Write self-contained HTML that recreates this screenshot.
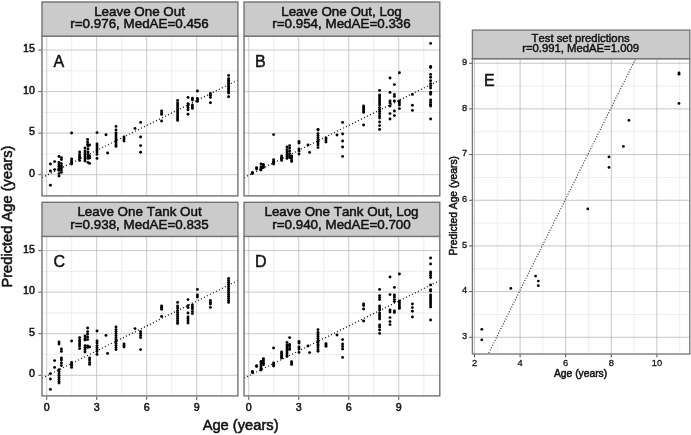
<!DOCTYPE html>
<html lang="en"><head><meta charset="utf-8"><title>Predicted Age vs Age</title>
<style>html,body{margin:0;padding:0;background:#fff}svg{display:block;will-change:transform;opacity:.9999}text{font-family:"Liberation Sans",Arial,Helvetica,sans-serif;fill:#111;stroke:#111;stroke-width:.4px;stroke-linejoin:round;font-kerning:none}.st{font-size:13.4px;text-anchor:middle;stroke-width:.5px}.tk{font-size:10.7px;stroke-width:.5px}.pl{font-size:16px;stroke-width:.5px}.ax{font-size:14.7px;text-anchor:middle;stroke-width:.55px}.est{font-size:11.3px;text-anchor:middle;stroke-width:.45px}.etk{font-size:9.3px;stroke-width:.3px}.eax{font-size:10.3px;text-anchor:middle;stroke-width:.5px}</style></head><body>
<svg width="691" height="435" viewBox="0 0 691 435">
<rect width="691" height="435" fill="#fff"/>
<g>
<clipPath id="cp0"><rect x="42.00" y="36.10" width="195.90" height="159.80"/></clipPath>
<rect x="42.00" y="36.10" width="195.90" height="159.80" fill="#fff"/>
<path d="M71.70 36.10V195.90M121.70 36.10V195.90M171.70 36.10V195.90M221.70 36.10V195.90M42.00 195.47H237.90M42.00 153.92H237.90M42.00 112.37H237.90M42.00 70.82H237.90" stroke="#dcdcdc" stroke-width="0.5" fill="none"/>
<path d="M46.70 36.10V195.90M96.70 36.10V195.90M146.70 36.10V195.90M196.70 36.10V195.90M42.00 174.70H237.90M42.00 133.15H237.90M42.00 91.60H237.90M42.00 50.05H237.90" stroke="#bcbcbc" stroke-width="0.8" fill="none"/>
<line x1="42.00" y1="177.64" x2="237.90" y2="79.97" stroke="#222" stroke-width="1.25" stroke-dasharray="1.15 2.2" clip-path="url(#cp0)"/>
<g fill="#000"><circle cx="50.4" cy="164.0" r="1.45"/><circle cx="50.4" cy="171.0" r="1.45"/><circle cx="50.4" cy="185.2" r="1.45"/><circle cx="54.6" cy="161.6" r="1.45"/><circle cx="54.6" cy="169.6" r="1.45"/><circle cx="59.0" cy="156.4" r="1.45"/><circle cx="59.0" cy="162.4" r="1.45"/><circle cx="59.0" cy="164.4" r="1.45"/><circle cx="59.0" cy="166.4" r="1.45"/><circle cx="59.0" cy="168.4" r="1.45"/><circle cx="59.0" cy="170.4" r="1.45"/><circle cx="59.0" cy="173.6" r="1.45"/><circle cx="59.0" cy="176.0" r="1.45"/><circle cx="61.4" cy="157.6" r="1.45"/><circle cx="61.4" cy="159.6" r="1.45"/><circle cx="61.4" cy="163.6" r="1.45"/><circle cx="61.4" cy="166.0" r="1.45"/><circle cx="61.4" cy="168.0" r="1.45"/><circle cx="61.4" cy="170.0" r="1.45"/><circle cx="61.4" cy="172.4" r="1.45"/><circle cx="71.6" cy="133.0" r="1.45"/><circle cx="71.6" cy="159.0" r="1.45"/><circle cx="71.6" cy="161.0" r="1.45"/><circle cx="71.6" cy="162.4" r="1.45"/><circle cx="71.6" cy="164.0" r="1.45"/><circle cx="79.6" cy="152.0" r="1.45"/><circle cx="79.6" cy="154.4" r="1.45"/><circle cx="79.6" cy="156.4" r="1.45"/><circle cx="79.6" cy="158.0" r="1.45"/><circle cx="79.6" cy="160.4" r="1.45"/><circle cx="87.6" cy="139.4" r="1.45"/><circle cx="87.6" cy="142.0" r="1.45"/><circle cx="87.6" cy="144.4" r="1.45"/><circle cx="85.0" cy="148.0" r="1.45"/><circle cx="85.0" cy="151.0" r="1.45"/><circle cx="85.0" cy="153.0" r="1.45"/><circle cx="85.0" cy="155.0" r="1.45"/><circle cx="85.0" cy="157.0" r="1.45"/><circle cx="85.0" cy="159.0" r="1.45"/><circle cx="85.0" cy="161.0" r="1.45"/><circle cx="88.0" cy="146.0" r="1.45"/><circle cx="88.0" cy="149.0" r="1.45"/><circle cx="88.0" cy="152.0" r="1.45"/><circle cx="88.0" cy="154.4" r="1.45"/><circle cx="88.0" cy="156.4" r="1.45"/><circle cx="88.0" cy="158.4" r="1.45"/><circle cx="88.0" cy="162.4" r="1.45"/><circle cx="89.6" cy="145.0" r="1.45"/><circle cx="89.6" cy="156.0" r="1.45"/><circle cx="89.6" cy="158.0" r="1.45"/><circle cx="89.6" cy="163.4" r="1.45"/><circle cx="97.0" cy="132.6" r="1.45"/><circle cx="97.0" cy="144.0" r="1.45"/><circle cx="97.0" cy="146.0" r="1.45"/><circle cx="97.0" cy="148.0" r="1.45"/><circle cx="97.0" cy="150.0" r="1.45"/><circle cx="97.0" cy="152.0" r="1.45"/><circle cx="97.0" cy="154.4" r="1.45"/><circle cx="97.0" cy="158.4" r="1.45"/><circle cx="106.0" cy="134.8" r="1.45"/><circle cx="107.6" cy="153.0" r="1.45"/><circle cx="116.0" cy="126.4" r="1.45"/><circle cx="116.0" cy="130.0" r="1.45"/><circle cx="116.0" cy="133.0" r="1.45"/><circle cx="116.0" cy="135.0" r="1.45"/><circle cx="116.0" cy="137.0" r="1.45"/><circle cx="116.0" cy="139.0" r="1.45"/><circle cx="116.0" cy="141.0" r="1.45"/><circle cx="116.0" cy="143.0" r="1.45"/><circle cx="116.0" cy="145.0" r="1.45"/><circle cx="116.0" cy="146.4" r="1.45"/><circle cx="124.0" cy="137.0" r="1.45"/><circle cx="124.0" cy="139.0" r="1.45"/><circle cx="124.0" cy="141.0" r="1.45"/><circle cx="135.0" cy="128.4" r="1.45"/><circle cx="140.6" cy="122.4" r="1.45"/><circle cx="140.6" cy="137.0" r="1.45"/><circle cx="140.6" cy="145.6" r="1.45"/><circle cx="140.6" cy="152.2" r="1.45"/><circle cx="161.6" cy="111.0" r="1.45"/><circle cx="161.6" cy="113.0" r="1.45"/><circle cx="161.6" cy="114.4" r="1.45"/><circle cx="161.6" cy="121.0" r="1.45"/><circle cx="177.6" cy="100.4" r="1.45"/><circle cx="177.6" cy="103.0" r="1.45"/><circle cx="177.6" cy="105.0" r="1.45"/><circle cx="177.6" cy="107.0" r="1.45"/><circle cx="177.6" cy="109.0" r="1.45"/><circle cx="177.6" cy="111.0" r="1.45"/><circle cx="177.6" cy="113.0" r="1.45"/><circle cx="177.6" cy="115.0" r="1.45"/><circle cx="177.6" cy="117.0" r="1.45"/><circle cx="177.6" cy="119.0" r="1.45"/><circle cx="177.6" cy="120.4" r="1.45"/><circle cx="188.0" cy="97.4" r="1.45"/><circle cx="188.0" cy="103.6" r="1.45"/><circle cx="188.0" cy="105.6" r="1.45"/><circle cx="188.0" cy="107.8" r="1.45"/><circle cx="188.0" cy="109.8" r="1.45"/><circle cx="188.0" cy="114.2" r="1.45"/><circle cx="192.4" cy="98.2" r="1.45"/><circle cx="192.4" cy="100.0" r="1.45"/><circle cx="192.4" cy="105.0" r="1.45"/><circle cx="192.4" cy="107.0" r="1.45"/><circle cx="192.4" cy="108.4" r="1.45"/><circle cx="197.4" cy="91.0" r="1.45"/><circle cx="197.4" cy="98.4" r="1.45"/><circle cx="197.4" cy="100.0" r="1.45"/><circle cx="197.4" cy="101.4" r="1.45"/><circle cx="210.4" cy="93.4" r="1.45"/><circle cx="210.4" cy="95.2" r="1.45"/><circle cx="210.4" cy="97.4" r="1.45"/><circle cx="210.4" cy="102.8" r="1.45"/><circle cx="228.6" cy="75.4" r="1.45"/><circle cx="228.6" cy="78.6" r="1.45"/><circle cx="228.6" cy="80.2" r="1.45"/><circle cx="228.6" cy="81.8" r="1.45"/><circle cx="228.6" cy="83.4" r="1.45"/><circle cx="228.6" cy="85.0" r="1.45"/><circle cx="228.6" cy="86.6" r="1.45"/><circle cx="228.6" cy="88.2" r="1.45"/><circle cx="228.6" cy="89.8" r="1.45"/><circle cx="228.6" cy="91.4" r="1.45"/><circle cx="228.6" cy="93.0" r="1.45"/><circle cx="228.6" cy="96.8" r="1.45"/></g>
<rect x="42.00" y="36.10" width="195.90" height="159.80" fill="none" stroke="#737373" stroke-width="1.4"/>
<rect x="42.00" y="2.00" width="195.90" height="34.10" fill="#cbcbcb" stroke="#737373" stroke-width="1.4"/>
<text class="st" x="139.55" y="15.90">Leave One Out</text>
<text class="st" x="139.55" y="28.20">r=0.976, MedAE=0.456</text>
<text class="pl" x="53.50" y="66.50">A</text>
<line x1="38.30" y1="174.70" x2="41.30" y2="174.70" stroke="#555" stroke-width="1"/>
<text class="tk" text-anchor="end" x="35.00" y="176.80">0</text>
<line x1="38.30" y1="133.15" x2="41.30" y2="133.15" stroke="#555" stroke-width="1"/>
<text class="tk" text-anchor="end" x="35.00" y="135.25">5</text>
<line x1="38.30" y1="91.60" x2="41.30" y2="91.60" stroke="#555" stroke-width="1"/>
<text class="tk" text-anchor="end" x="35.00" y="93.70">10</text>
<line x1="38.30" y1="50.05" x2="41.30" y2="50.05" stroke="#555" stroke-width="1"/>
<text class="tk" text-anchor="end" x="35.00" y="52.15">15</text>
</g>
<g>
<clipPath id="cp1"><rect x="244.05" y="36.10" width="195.75" height="159.80"/></clipPath>
<rect x="244.05" y="36.10" width="195.75" height="159.80" fill="#fff"/>
<path d="M273.75 36.10V195.90M323.75 36.10V195.90M373.75 36.10V195.90M423.75 36.10V195.90M244.05 195.47H439.80M244.05 153.92H439.80M244.05 112.37H439.80M244.05 70.82H439.80" stroke="#dcdcdc" stroke-width="0.5" fill="none"/>
<path d="M248.75 36.10V195.90M298.75 36.10V195.90M348.75 36.10V195.90M398.75 36.10V195.90M244.05 174.70H439.80M244.05 133.15H439.80M244.05 91.60H439.80M244.05 50.05H439.80" stroke="#bcbcbc" stroke-width="0.8" fill="none"/>
<line x1="244.05" y1="177.64" x2="439.80" y2="80.04" stroke="#222" stroke-width="1.25" stroke-dasharray="1.15 2.2" clip-path="url(#cp1)"/>
<g fill="#000"><circle cx="252.4" cy="172.4" r="1.45"/><circle cx="252.4" cy="173.6" r="1.45"/><circle cx="256.6" cy="167.6" r="1.45"/><circle cx="256.6" cy="169.0" r="1.45"/><circle cx="261.0" cy="164.0" r="1.45"/><circle cx="261.0" cy="167.0" r="1.45"/><circle cx="261.0" cy="168.4" r="1.45"/><circle cx="261.0" cy="170.0" r="1.45"/><circle cx="263.4" cy="164.4" r="1.45"/><circle cx="263.4" cy="166.0" r="1.45"/><circle cx="263.4" cy="167.6" r="1.45"/><circle cx="273.6" cy="134.6" r="1.45"/><circle cx="273.6" cy="159.6" r="1.45"/><circle cx="273.6" cy="161.2" r="1.45"/><circle cx="273.6" cy="162.4" r="1.45"/><circle cx="273.6" cy="164.0" r="1.45"/><circle cx="281.6" cy="156.0" r="1.45"/><circle cx="281.6" cy="157.4" r="1.45"/><circle cx="281.6" cy="158.8" r="1.45"/><circle cx="281.6" cy="160.4" r="1.45"/><circle cx="287.0" cy="147.0" r="1.45"/><circle cx="287.0" cy="149.6" r="1.45"/><circle cx="287.0" cy="152.0" r="1.45"/><circle cx="287.0" cy="154.4" r="1.45"/><circle cx="287.0" cy="156.4" r="1.45"/><circle cx="287.0" cy="158.4" r="1.45"/><circle cx="289.6" cy="145.6" r="1.45"/><circle cx="289.6" cy="148.0" r="1.45"/><circle cx="289.6" cy="151.0" r="1.45"/><circle cx="289.6" cy="153.6" r="1.45"/><circle cx="289.6" cy="155.6" r="1.45"/><circle cx="289.6" cy="157.6" r="1.45"/><circle cx="291.6" cy="156.0" r="1.45"/><circle cx="291.6" cy="158.0" r="1.45"/><circle cx="291.6" cy="160.0" r="1.45"/><circle cx="291.6" cy="161.6" r="1.45"/><circle cx="299.0" cy="141.4" r="1.45"/><circle cx="299.0" cy="143.0" r="1.45"/><circle cx="299.0" cy="149.0" r="1.45"/><circle cx="299.0" cy="151.0" r="1.45"/><circle cx="299.0" cy="154.0" r="1.45"/><circle cx="308.0" cy="145.0" r="1.45"/><circle cx="309.6" cy="152.4" r="1.45"/><circle cx="318.0" cy="129.4" r="1.45"/><circle cx="318.0" cy="130.0" r="1.45"/><circle cx="318.0" cy="133.6" r="1.45"/><circle cx="318.0" cy="135.6" r="1.45"/><circle cx="318.0" cy="137.6" r="1.45"/><circle cx="318.0" cy="139.6" r="1.45"/><circle cx="318.0" cy="141.6" r="1.45"/><circle cx="318.0" cy="143.0" r="1.45"/><circle cx="318.0" cy="145.0" r="1.45"/><circle cx="318.0" cy="147.6" r="1.45"/><circle cx="326.0" cy="138.0" r="1.45"/><circle cx="326.0" cy="140.0" r="1.45"/><circle cx="326.0" cy="142.0" r="1.45"/><circle cx="337.0" cy="135.0" r="1.45"/><circle cx="342.6" cy="122.4" r="1.45"/><circle cx="342.6" cy="134.0" r="1.45"/><circle cx="342.6" cy="141.0" r="1.45"/><circle cx="342.6" cy="147.0" r="1.45"/><circle cx="342.6" cy="156.4" r="1.45"/><circle cx="363.6" cy="106.0" r="1.45"/><circle cx="363.6" cy="107.6" r="1.45"/><circle cx="363.6" cy="109.2" r="1.45"/><circle cx="363.6" cy="111.0" r="1.45"/><circle cx="363.6" cy="112.4" r="1.45"/><circle cx="363.6" cy="125.0" r="1.45"/><circle cx="379.6" cy="90.4" r="1.45"/><circle cx="379.6" cy="95.0" r="1.45"/><circle cx="379.6" cy="97.0" r="1.45"/><circle cx="379.6" cy="99.0" r="1.45"/><circle cx="379.6" cy="101.0" r="1.45"/><circle cx="379.6" cy="103.0" r="1.45"/><circle cx="379.6" cy="105.0" r="1.45"/><circle cx="379.6" cy="107.6" r="1.45"/><circle cx="379.6" cy="109.6" r="1.45"/><circle cx="379.6" cy="111.6" r="1.45"/><circle cx="379.6" cy="113.6" r="1.45"/><circle cx="379.6" cy="116.0" r="1.45"/><circle cx="379.6" cy="118.0" r="1.45"/><circle cx="379.6" cy="122.0" r="1.45"/><circle cx="379.6" cy="125.6" r="1.45"/><circle cx="379.6" cy="129.4" r="1.45"/><circle cx="390.0" cy="78.0" r="1.45"/><circle cx="390.0" cy="92.4" r="1.45"/><circle cx="390.0" cy="101.0" r="1.45"/><circle cx="390.0" cy="103.0" r="1.45"/><circle cx="390.0" cy="106.0" r="1.45"/><circle cx="390.0" cy="113.6" r="1.45"/><circle cx="390.0" cy="119.0" r="1.45"/><circle cx="394.4" cy="84.6" r="1.45"/><circle cx="394.4" cy="94.4" r="1.45"/><circle cx="394.4" cy="96.4" r="1.45"/><circle cx="394.4" cy="101.0" r="1.45"/><circle cx="394.4" cy="111.0" r="1.45"/><circle cx="394.4" cy="115.6" r="1.45"/><circle cx="399.4" cy="72.8" r="1.45"/><circle cx="399.4" cy="101.0" r="1.45"/><circle cx="399.4" cy="103.0" r="1.45"/><circle cx="399.4" cy="105.0" r="1.45"/><circle cx="399.4" cy="108.6" r="1.45"/><circle cx="412.4" cy="94.4" r="1.45"/><circle cx="412.4" cy="105.2" r="1.45"/><circle cx="412.4" cy="110.4" r="1.45"/><circle cx="430.6" cy="43.4" r="1.45"/><circle cx="430.6" cy="66.4" r="1.45"/><circle cx="430.6" cy="67.6" r="1.45"/><circle cx="430.6" cy="74.4" r="1.45"/><circle cx="430.6" cy="77.2" r="1.45"/><circle cx="430.6" cy="80.8" r="1.45"/><circle cx="430.6" cy="83.6" r="1.45"/><circle cx="430.6" cy="85.8" r="1.45"/><circle cx="430.6" cy="88.0" r="1.45"/><circle cx="430.6" cy="92.2" r="1.45"/><circle cx="430.6" cy="94.2" r="1.45"/><circle cx="430.6" cy="100.0" r="1.45"/><circle cx="430.6" cy="102.2" r="1.45"/><circle cx="430.6" cy="104.4" r="1.45"/><circle cx="430.6" cy="106.0" r="1.45"/><circle cx="430.6" cy="119.0" r="1.45"/></g>
<rect x="244.05" y="36.10" width="195.75" height="159.80" fill="none" stroke="#737373" stroke-width="1.4"/>
<rect x="244.05" y="2.00" width="195.75" height="34.10" fill="#cbcbcb" stroke="#737373" stroke-width="1.4"/>
<text class="st" x="341.53" y="15.90">Leave One Out, Log</text>
<text class="st" x="341.53" y="28.20">r=0.954, MedAE=0.336</text>
<text class="pl" x="254.95" y="66.50">B</text>
</g>
<g>
<clipPath id="cp2"><rect x="42.00" y="236.40" width="195.90" height="159.50"/></clipPath>
<rect x="42.00" y="236.40" width="195.90" height="159.50" fill="#fff"/>
<path d="M71.70 236.40V395.90M121.70 236.40V395.90M171.70 236.40V395.90M221.70 236.40V395.90M42.00 354.48H237.90M42.00 312.93H237.90M42.00 271.38H237.90" stroke="#dcdcdc" stroke-width="0.5" fill="none"/>
<path d="M46.70 236.40V395.90M96.70 236.40V395.90M146.70 236.40V395.90M196.70 236.40V395.90M42.00 375.25H237.90M42.00 333.70H237.90M42.00 292.15H237.90M42.00 250.60H237.90" stroke="#bcbcbc" stroke-width="0.8" fill="none"/>
<line x1="42.00" y1="378.19" x2="237.90" y2="280.52" stroke="#222" stroke-width="1.25" stroke-dasharray="1.15 2.2" clip-path="url(#cp2)"/>
<g fill="#000"><circle cx="50.4" cy="373.6" r="1.45"/><circle cx="50.4" cy="379.0" r="1.45"/><circle cx="50.4" cy="389.4" r="1.45"/><circle cx="54.6" cy="360.6" r="1.45"/><circle cx="54.6" cy="367.4" r="1.45"/><circle cx="59.0" cy="342.0" r="1.45"/><circle cx="59.0" cy="344.0" r="1.45"/><circle cx="59.0" cy="369.6" r="1.45"/><circle cx="59.0" cy="371.6" r="1.45"/><circle cx="59.0" cy="373.6" r="1.45"/><circle cx="59.0" cy="375.6" r="1.45"/><circle cx="59.0" cy="377.6" r="1.45"/><circle cx="59.0" cy="379.6" r="1.45"/><circle cx="59.0" cy="381.6" r="1.45"/><circle cx="59.0" cy="383.0" r="1.45"/><circle cx="61.4" cy="349.0" r="1.45"/><circle cx="61.4" cy="351.4" r="1.45"/><circle cx="61.4" cy="358.0" r="1.45"/><circle cx="61.4" cy="360.0" r="1.45"/><circle cx="61.4" cy="363.0" r="1.45"/><circle cx="61.4" cy="365.6" r="1.45"/><circle cx="71.6" cy="341.0" r="1.45"/><circle cx="71.6" cy="362.4" r="1.45"/><circle cx="71.6" cy="364.0" r="1.45"/><circle cx="71.6" cy="365.6" r="1.45"/><circle cx="71.6" cy="367.4" r="1.45"/><circle cx="79.6" cy="337.6" r="1.45"/><circle cx="79.6" cy="340.0" r="1.45"/><circle cx="79.6" cy="342.0" r="1.45"/><circle cx="79.6" cy="344.0" r="1.45"/><circle cx="79.6" cy="346.0" r="1.45"/><circle cx="79.6" cy="348.6" r="1.45"/><circle cx="85.0" cy="336.0" r="1.45"/><circle cx="85.0" cy="338.4" r="1.45"/><circle cx="85.0" cy="340.0" r="1.45"/><circle cx="85.0" cy="345.6" r="1.45"/><circle cx="85.0" cy="347.6" r="1.45"/><circle cx="85.0" cy="349.6" r="1.45"/><circle cx="85.0" cy="352.0" r="1.45"/><circle cx="87.6" cy="328.0" r="1.45"/><circle cx="87.6" cy="331.6" r="1.45"/><circle cx="87.6" cy="334.0" r="1.45"/><circle cx="87.6" cy="337.0" r="1.45"/><circle cx="87.6" cy="339.6" r="1.45"/><circle cx="87.6" cy="346.0" r="1.45"/><circle cx="87.6" cy="347.4" r="1.45"/><circle cx="89.6" cy="347.0" r="1.45"/><circle cx="89.6" cy="358.0" r="1.45"/><circle cx="89.6" cy="360.0" r="1.45"/><circle cx="89.6" cy="362.4" r="1.45"/><circle cx="89.6" cy="364.4" r="1.45"/><circle cx="97.0" cy="331.0" r="1.45"/><circle cx="97.0" cy="341.0" r="1.45"/><circle cx="97.0" cy="343.0" r="1.45"/><circle cx="97.0" cy="345.6" r="1.45"/><circle cx="97.0" cy="347.6" r="1.45"/><circle cx="97.0" cy="349.6" r="1.45"/><circle cx="97.0" cy="351.6" r="1.45"/><circle cx="97.0" cy="354.4" r="1.45"/><circle cx="106.0" cy="335.4" r="1.45"/><circle cx="107.6" cy="353.4" r="1.45"/><circle cx="116.0" cy="327.0" r="1.45"/><circle cx="116.0" cy="329.6" r="1.45"/><circle cx="116.0" cy="331.6" r="1.45"/><circle cx="116.0" cy="333.6" r="1.45"/><circle cx="116.0" cy="335.6" r="1.45"/><circle cx="116.0" cy="337.6" r="1.45"/><circle cx="116.0" cy="339.6" r="1.45"/><circle cx="116.0" cy="341.6" r="1.45"/><circle cx="116.0" cy="343.6" r="1.45"/><circle cx="116.0" cy="345.6" r="1.45"/><circle cx="116.0" cy="347.6" r="1.45"/><circle cx="116.0" cy="349.6" r="1.45"/><circle cx="124.0" cy="344.0" r="1.45"/><circle cx="124.0" cy="345.6" r="1.45"/><circle cx="124.0" cy="347.0" r="1.45"/><circle cx="135.0" cy="328.6" r="1.45"/><circle cx="140.6" cy="331.6" r="1.45"/><circle cx="140.6" cy="333.6" r="1.45"/><circle cx="140.6" cy="335.6" r="1.45"/><circle cx="140.6" cy="337.6" r="1.45"/><circle cx="140.6" cy="349.6" r="1.45"/><circle cx="161.6" cy="306.0" r="1.45"/><circle cx="161.6" cy="307.6" r="1.45"/><circle cx="161.6" cy="309.2" r="1.45"/><circle cx="161.6" cy="316.4" r="1.45"/><circle cx="177.6" cy="302.4" r="1.45"/><circle cx="177.6" cy="306.0" r="1.45"/><circle cx="177.6" cy="308.0" r="1.45"/><circle cx="177.6" cy="310.4" r="1.45"/><circle cx="177.6" cy="312.4" r="1.45"/><circle cx="177.6" cy="314.4" r="1.45"/><circle cx="177.6" cy="316.4" r="1.45"/><circle cx="177.6" cy="318.4" r="1.45"/><circle cx="177.6" cy="320.4" r="1.45"/><circle cx="177.6" cy="322.4" r="1.45"/><circle cx="177.6" cy="323.6" r="1.45"/><circle cx="188.0" cy="299.6" r="1.45"/><circle cx="188.0" cy="305.6" r="1.45"/><circle cx="188.0" cy="307.6" r="1.45"/><circle cx="188.0" cy="313.0" r="1.45"/><circle cx="188.0" cy="317.0" r="1.45"/><circle cx="188.0" cy="319.0" r="1.45"/><circle cx="188.0" cy="321.0" r="1.45"/><circle cx="188.0" cy="323.0" r="1.45"/><circle cx="192.4" cy="305.0" r="1.45"/><circle cx="192.4" cy="307.0" r="1.45"/><circle cx="192.4" cy="309.0" r="1.45"/><circle cx="192.4" cy="311.6" r="1.45"/><circle cx="192.4" cy="313.6" r="1.45"/><circle cx="197.4" cy="289.4" r="1.45"/><circle cx="197.4" cy="295.0" r="1.45"/><circle cx="197.4" cy="297.0" r="1.45"/><circle cx="210.4" cy="300.4" r="1.45"/><circle cx="210.4" cy="302.4" r="1.45"/><circle cx="210.4" cy="304.0" r="1.45"/><circle cx="210.4" cy="307.4" r="1.45"/><circle cx="228.6" cy="278.4" r="1.45"/><circle cx="228.6" cy="280.4" r="1.45"/><circle cx="228.6" cy="282.4" r="1.45"/><circle cx="228.6" cy="284.4" r="1.45"/><circle cx="228.6" cy="286.4" r="1.45"/><circle cx="228.6" cy="288.4" r="1.45"/><circle cx="228.6" cy="290.4" r="1.45"/><circle cx="228.6" cy="292.4" r="1.45"/><circle cx="228.6" cy="294.4" r="1.45"/><circle cx="228.6" cy="296.4" r="1.45"/><circle cx="228.6" cy="298.4" r="1.45"/><circle cx="228.6" cy="300.4" r="1.45"/><circle cx="228.6" cy="302.4" r="1.45"/></g>
<rect x="42.00" y="236.40" width="195.90" height="159.50" fill="none" stroke="#737373" stroke-width="1.4"/>
<rect x="42.00" y="202.30" width="195.90" height="34.10" fill="#cbcbcb" stroke="#737373" stroke-width="1.4"/>
<text class="st" x="139.55" y="216.20">Leave One Tank Out</text>
<text class="st" x="139.55" y="228.50">r=0.938, MedAE=0.835</text>
<text class="pl" x="53.50" y="266.80">C</text>
<line x1="38.30" y1="375.25" x2="41.30" y2="375.25" stroke="#555" stroke-width="1"/>
<text class="tk" text-anchor="end" x="35.00" y="377.35">0</text>
<line x1="38.30" y1="333.70" x2="41.30" y2="333.70" stroke="#555" stroke-width="1"/>
<text class="tk" text-anchor="end" x="35.00" y="335.80">5</text>
<line x1="38.30" y1="292.15" x2="41.30" y2="292.15" stroke="#555" stroke-width="1"/>
<text class="tk" text-anchor="end" x="35.00" y="294.25">10</text>
<line x1="38.30" y1="250.60" x2="41.30" y2="250.60" stroke="#555" stroke-width="1"/>
<text class="tk" text-anchor="end" x="35.00" y="252.70">15</text>
<line x1="46.70" y1="396.60" x2="46.70" y2="399.90" stroke="#555" stroke-width="1"/>
<text class="tk" text-anchor="middle" x="46.70" y="410.70">0</text>
<line x1="96.70" y1="396.60" x2="96.70" y2="399.90" stroke="#555" stroke-width="1"/>
<text class="tk" text-anchor="middle" x="96.70" y="410.70">3</text>
<line x1="146.70" y1="396.60" x2="146.70" y2="399.90" stroke="#555" stroke-width="1"/>
<text class="tk" text-anchor="middle" x="146.70" y="410.70">6</text>
<line x1="196.70" y1="396.60" x2="196.70" y2="399.90" stroke="#555" stroke-width="1"/>
<text class="tk" text-anchor="middle" x="196.70" y="410.70">9</text>
</g>
<g>
<clipPath id="cp3"><rect x="244.05" y="236.40" width="195.75" height="159.50"/></clipPath>
<rect x="244.05" y="236.40" width="195.75" height="159.50" fill="#fff"/>
<path d="M273.75 236.40V395.90M323.75 236.40V395.90M373.75 236.40V395.90M423.75 236.40V395.90M244.05 354.48H439.80M244.05 312.93H439.80M244.05 271.38H439.80" stroke="#dcdcdc" stroke-width="0.5" fill="none"/>
<path d="M248.75 236.40V395.90M298.75 236.40V395.90M348.75 236.40V395.90M398.75 236.40V395.90M244.05 375.25H439.80M244.05 333.70H439.80M244.05 292.15H439.80M244.05 250.60H439.80" stroke="#bcbcbc" stroke-width="0.8" fill="none"/>
<line x1="244.05" y1="378.19" x2="439.80" y2="280.59" stroke="#222" stroke-width="1.25" stroke-dasharray="1.15 2.2" clip-path="url(#cp3)"/>
<g fill="#000"><circle cx="252.4" cy="371.4" r="1.45"/><circle cx="252.4" cy="372.6" r="1.45"/><circle cx="256.6" cy="365.6" r="1.45"/><circle cx="256.6" cy="366.6" r="1.45"/><circle cx="261.0" cy="361.4" r="1.45"/><circle cx="261.0" cy="363.0" r="1.45"/><circle cx="261.0" cy="365.0" r="1.45"/><circle cx="261.0" cy="367.0" r="1.45"/><circle cx="261.0" cy="368.6" r="1.45"/><circle cx="261.0" cy="370.0" r="1.45"/><circle cx="263.4" cy="358.6" r="1.45"/><circle cx="263.4" cy="360.0" r="1.45"/><circle cx="263.4" cy="361.6" r="1.45"/><circle cx="263.4" cy="363.2" r="1.45"/><circle cx="263.4" cy="364.8" r="1.45"/><circle cx="273.6" cy="348.0" r="1.45"/><circle cx="273.6" cy="363.0" r="1.45"/><circle cx="273.6" cy="364.6" r="1.45"/><circle cx="273.6" cy="366.0" r="1.45"/><circle cx="281.6" cy="352.0" r="1.45"/><circle cx="281.6" cy="353.6" r="1.45"/><circle cx="281.6" cy="355.2" r="1.45"/><circle cx="281.6" cy="356.8" r="1.45"/><circle cx="281.6" cy="358.0" r="1.45"/><circle cx="287.0" cy="342.4" r="1.45"/><circle cx="287.0" cy="345.0" r="1.45"/><circle cx="287.0" cy="347.0" r="1.45"/><circle cx="287.0" cy="349.0" r="1.45"/><circle cx="287.0" cy="351.0" r="1.45"/><circle cx="287.0" cy="353.0" r="1.45"/><circle cx="287.0" cy="355.0" r="1.45"/><circle cx="287.0" cy="356.4" r="1.45"/><circle cx="289.6" cy="337.6" r="1.45"/><circle cx="289.6" cy="344.4" r="1.45"/><circle cx="289.6" cy="346.0" r="1.45"/><circle cx="289.6" cy="348.4" r="1.45"/><circle cx="289.6" cy="349.6" r="1.45"/><circle cx="291.6" cy="361.6" r="1.45"/><circle cx="291.6" cy="363.0" r="1.45"/><circle cx="291.6" cy="364.4" r="1.45"/><circle cx="299.0" cy="341.4" r="1.45"/><circle cx="299.0" cy="343.0" r="1.45"/><circle cx="299.0" cy="347.0" r="1.45"/><circle cx="299.0" cy="349.0" r="1.45"/><circle cx="299.0" cy="352.4" r="1.45"/><circle cx="308.0" cy="346.0" r="1.45"/><circle cx="309.6" cy="352.6" r="1.45"/><circle cx="318.0" cy="329.6" r="1.45"/><circle cx="318.0" cy="332.4" r="1.45"/><circle cx="318.0" cy="334.4" r="1.45"/><circle cx="318.0" cy="336.4" r="1.45"/><circle cx="318.0" cy="338.4" r="1.45"/><circle cx="318.0" cy="340.4" r="1.45"/><circle cx="318.0" cy="342.4" r="1.45"/><circle cx="318.0" cy="344.4" r="1.45"/><circle cx="318.0" cy="346.0" r="1.45"/><circle cx="318.0" cy="347.6" r="1.45"/><circle cx="318.0" cy="349.6" r="1.45"/><circle cx="318.0" cy="351.2" r="1.45"/><circle cx="326.0" cy="343.6" r="1.45"/><circle cx="326.0" cy="345.0" r="1.45"/><circle cx="326.0" cy="346.2" r="1.45"/><circle cx="337.0" cy="335.0" r="1.45"/><circle cx="342.6" cy="339.6" r="1.45"/><circle cx="342.6" cy="344.0" r="1.45"/><circle cx="342.6" cy="346.4" r="1.45"/><circle cx="342.6" cy="349.0" r="1.45"/><circle cx="342.6" cy="357.4" r="1.45"/><circle cx="363.6" cy="304.0" r="1.45"/><circle cx="363.6" cy="305.6" r="1.45"/><circle cx="363.6" cy="309.0" r="1.45"/><circle cx="363.6" cy="321.0" r="1.45"/><circle cx="379.6" cy="289.4" r="1.45"/><circle cx="379.6" cy="295.6" r="1.45"/><circle cx="379.6" cy="297.6" r="1.45"/><circle cx="379.6" cy="299.6" r="1.45"/><circle cx="379.6" cy="306.0" r="1.45"/><circle cx="379.6" cy="308.0" r="1.45"/><circle cx="379.6" cy="310.0" r="1.45"/><circle cx="379.6" cy="313.0" r="1.45"/><circle cx="379.6" cy="315.0" r="1.45"/><circle cx="379.6" cy="317.0" r="1.45"/><circle cx="379.6" cy="319.0" r="1.45"/><circle cx="379.6" cy="325.0" r="1.45"/><circle cx="379.6" cy="327.0" r="1.45"/><circle cx="379.6" cy="330.0" r="1.45"/><circle cx="379.6" cy="333.4" r="1.45"/><circle cx="390.0" cy="277.0" r="1.45"/><circle cx="390.0" cy="294.6" r="1.45"/><circle cx="390.0" cy="310.0" r="1.45"/><circle cx="390.0" cy="312.0" r="1.45"/><circle cx="390.0" cy="317.6" r="1.45"/><circle cx="390.0" cy="321.6" r="1.45"/><circle cx="390.0" cy="324.6" r="1.45"/><circle cx="394.4" cy="287.4" r="1.45"/><circle cx="394.4" cy="295.0" r="1.45"/><circle cx="394.4" cy="297.0" r="1.45"/><circle cx="394.4" cy="299.6" r="1.45"/><circle cx="394.4" cy="301.6" r="1.45"/><circle cx="394.4" cy="311.0" r="1.45"/><circle cx="394.4" cy="312.6" r="1.45"/><circle cx="399.4" cy="274.0" r="1.45"/><circle cx="399.4" cy="301.0" r="1.45"/><circle cx="399.4" cy="303.0" r="1.45"/><circle cx="399.4" cy="305.0" r="1.45"/><circle cx="399.4" cy="307.0" r="1.45"/><circle cx="399.4" cy="308.4" r="1.45"/><circle cx="412.4" cy="304.0" r="1.45"/><circle cx="412.4" cy="307.6" r="1.45"/><circle cx="412.4" cy="311.2" r="1.45"/><circle cx="412.4" cy="317.0" r="1.45"/><circle cx="430.6" cy="258.0" r="1.45"/><circle cx="430.6" cy="264.0" r="1.45"/><circle cx="430.6" cy="272.0" r="1.45"/><circle cx="430.6" cy="273.6" r="1.45"/><circle cx="430.6" cy="275.6" r="1.45"/><circle cx="430.6" cy="277.6" r="1.45"/><circle cx="430.6" cy="285.0" r="1.45"/><circle cx="430.6" cy="289.6" r="1.45"/><circle cx="430.6" cy="291.0" r="1.45"/><circle cx="430.6" cy="295.0" r="1.45"/><circle cx="430.6" cy="297.0" r="1.45"/><circle cx="430.6" cy="299.0" r="1.45"/><circle cx="430.6" cy="301.0" r="1.45"/><circle cx="430.6" cy="303.0" r="1.45"/><circle cx="430.6" cy="305.0" r="1.45"/><circle cx="430.6" cy="307.0" r="1.45"/><circle cx="430.6" cy="320.0" r="1.45"/></g>
<rect x="244.05" y="236.40" width="195.75" height="159.50" fill="none" stroke="#737373" stroke-width="1.4"/>
<rect x="244.05" y="202.30" width="195.75" height="34.10" fill="#cbcbcb" stroke="#737373" stroke-width="1.4"/>
<text class="st" x="341.53" y="216.20">Leave One Tank Out, Log</text>
<text class="st" x="341.53" y="228.50">r=0.940, MedAE=0.700</text>
<text class="pl" x="254.95" y="266.80">D</text>
<line x1="248.75" y1="396.60" x2="248.75" y2="399.90" stroke="#555" stroke-width="1"/>
<text class="tk" text-anchor="middle" x="248.75" y="410.70">0</text>
<line x1="298.75" y1="396.60" x2="298.75" y2="399.90" stroke="#555" stroke-width="1"/>
<text class="tk" text-anchor="middle" x="298.75" y="410.70">3</text>
<line x1="348.75" y1="396.60" x2="348.75" y2="399.90" stroke="#555" stroke-width="1"/>
<text class="tk" text-anchor="middle" x="348.75" y="410.70">6</text>
<line x1="398.75" y1="396.60" x2="398.75" y2="399.90" stroke="#555" stroke-width="1"/>
<text class="tk" text-anchor="middle" x="398.75" y="410.70">9</text>
</g>
<text class="ax" x="240.6" y="429.7">Age (years)</text>
<text class="ax" transform="translate(11.8 216.6) rotate(-90)">Predicted Age (years)</text>
<g>
<clipPath id="cpe"><rect x="472.40" y="58.70" width="217.40" height="295.30"/></clipPath>
<path d="M497.30 58.70V354.00M542.90 58.70V354.00M588.50 58.70V354.00M634.10 58.70V354.00M679.70 58.70V354.00M472.40 314.46H689.80M472.40 268.78H689.80M472.40 223.10H689.80M472.40 177.42H689.80M472.40 131.74H689.80M472.40 86.06H689.80" stroke="#dcdcdc" stroke-width="0.5" fill="none"/>
<path d="M474.50 58.70V354.00M520.10 58.70V354.00M565.70 58.70V354.00M611.30 58.70V354.00M656.90 58.70V354.00M472.40 337.30H689.80M472.40 291.62H689.80M472.40 245.94H689.80M472.40 200.26H689.80M472.40 154.58H689.80M472.40 108.90H689.80M472.40 63.22H689.80" stroke="#b6b6b6" stroke-width="0.8" fill="none"/>
<line x1="485.20" y1="360.14" x2="640.24" y2="49.52" stroke="#333" stroke-width="1.15" stroke-dasharray="1.05 1.63" clip-path="url(#cpe)"/>
<g fill="#000"><circle cx="481.8" cy="329.3" r="1.4"/><circle cx="481.8" cy="339.8" r="1.4"/><circle cx="510.8" cy="288.4" r="1.4"/><circle cx="535.6" cy="276.1" r="1.4"/><circle cx="538.3" cy="281.1" r="1.4"/><circle cx="538.3" cy="285.7" r="1.4"/><circle cx="587.8" cy="208.9" r="1.4"/><circle cx="609.0" cy="156.9" r="1.4"/><circle cx="609.0" cy="167.4" r="1.4"/><circle cx="623.4" cy="146.4" r="1.4"/><circle cx="628.9" cy="120.3" r="1.4"/><circle cx="679.0" cy="72.8" r="1.4"/><circle cx="679.0" cy="74.2" r="1.4"/><circle cx="679.0" cy="103.4" r="1.4"/></g>
<rect x="472.40" y="58.70" width="217.40" height="295.30" fill="none" stroke="#767676" stroke-width="1.35"/>
<rect x="472.40" y="30.10" width="217.40" height="28.60" fill="#cbcbcb" stroke="#767676" stroke-width="1.35"/>
<text class="est" x="580.60" y="41.90">Test set predictions</text>
<text class="est" x="580.60" y="52.20">r=0.991, MedAE=1.009</text>
<text class="pl" x="484.00" y="86.20">E</text>
<line x1="469.20" y1="337.30" x2="471.80" y2="337.30" stroke="#444" stroke-width="1"/>
<text class="etk" text-anchor="end" x="467.10" y="338.90">3</text>
<line x1="469.20" y1="291.62" x2="471.80" y2="291.62" stroke="#444" stroke-width="1"/>
<text class="etk" text-anchor="end" x="467.10" y="293.22">4</text>
<line x1="469.20" y1="245.94" x2="471.80" y2="245.94" stroke="#444" stroke-width="1"/>
<text class="etk" text-anchor="end" x="467.10" y="247.54">5</text>
<line x1="469.20" y1="200.26" x2="471.80" y2="200.26" stroke="#444" stroke-width="1"/>
<text class="etk" text-anchor="end" x="467.10" y="201.86">6</text>
<line x1="469.20" y1="154.58" x2="471.80" y2="154.58" stroke="#444" stroke-width="1"/>
<text class="etk" text-anchor="end" x="467.10" y="156.18">7</text>
<line x1="469.20" y1="108.90" x2="471.80" y2="108.90" stroke="#444" stroke-width="1"/>
<text class="etk" text-anchor="end" x="467.10" y="110.50">8</text>
<line x1="469.20" y1="63.22" x2="471.80" y2="63.22" stroke="#444" stroke-width="1"/>
<text class="etk" text-anchor="end" x="467.10" y="64.82">9</text>
<line x1="474.50" y1="354.60" x2="474.50" y2="357.40" stroke="#444" stroke-width="1"/>
<text class="etk" text-anchor="middle" x="474.50" y="365.90">2</text>
<line x1="520.10" y1="354.60" x2="520.10" y2="357.40" stroke="#444" stroke-width="1"/>
<text class="etk" text-anchor="middle" x="520.10" y="365.90">4</text>
<line x1="565.70" y1="354.60" x2="565.70" y2="357.40" stroke="#444" stroke-width="1"/>
<text class="etk" text-anchor="middle" x="565.70" y="365.90">6</text>
<line x1="611.30" y1="354.60" x2="611.30" y2="357.40" stroke="#444" stroke-width="1"/>
<text class="etk" text-anchor="middle" x="611.30" y="365.90">8</text>
<line x1="656.90" y1="354.60" x2="656.90" y2="357.40" stroke="#444" stroke-width="1"/>
<text class="etk" text-anchor="middle" x="656.90" y="365.90">10</text>
<text class="eax" x="580.60" y="377.4">Age (years)</text>
<text class="eax" transform="translate(456.6 205.8) rotate(-90)">Predicted Age (years)</text>
</g>
</svg></body></html>
